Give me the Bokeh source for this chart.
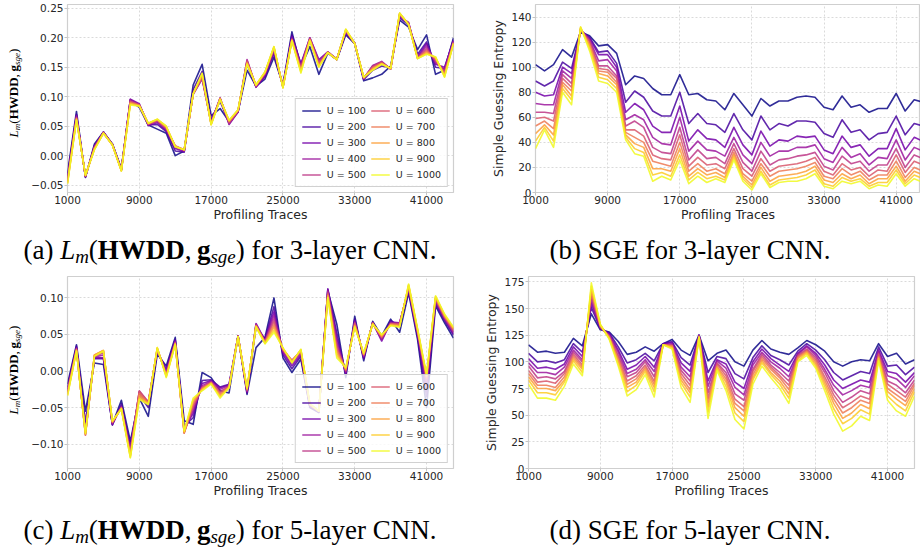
from bokeh.embed import file_html
from bokeh.layouts import column, row
from bokeh.models import (CustomJSTickFormatter, Div, FixedTicker, Legend,
                          LegendItem, Range1d)
from bokeh.plotting import figure
from bokeh.resources import INLINE

# ---------------------------------------------------------------- data
traces = [1000, 2000, 3000, 4000, 5000, 6000, 7000, 8000, 9000, 10000,
          11000, 12000, 13000, 14000, 15000, 16000, 17000, 18000, 19000, 20000,
          21000, 22000, 23000, 24000, 25000, 26000, 27000, 28000, 29000, 30000,
          31000, 32000, 33000, 34000, 35000, 36000, 37000, 38000, 39000, 40000,
          41000, 42000, 43000, 44000]
u_values = [100, 200, 300, 400, 500, 600, 700, 800, 900, 1000]
x_ticks = [1000, 9000, 17000, 25000, 33000, 41000]

# one row per profiling-trace count, one column per U value (100 ... 1000)
lm_3layer = [
    [-0.030, -0.035, -0.038, -0.040, -0.042, -0.043, -0.044, -0.046, -0.047, -0.048],
    [0.075, 0.070, 0.068, 0.067, 0.065, 0.064, 0.063, 0.062, 0.061, 0.060],
    [-0.037, -0.036, -0.036, -0.035, -0.035, -0.034, -0.034, -0.034, -0.033, -0.033],
    [0.020, 0.017, 0.016, 0.015, 0.014, 0.013, 0.012, 0.011, 0.011, 0.010],
    [0.040, 0.040, 0.040, 0.039, 0.039, 0.039, 0.039, 0.038, 0.038, 0.038],
    [0.020, 0.020, 0.019, 0.019, 0.019, 0.019, 0.018, 0.018, 0.018, 0.018],
    [-0.022, -0.023, -0.024, -0.024, -0.024, -0.025, -0.025, -0.025, -0.026, -0.026],
    [0.093, 0.095, 0.096, 0.095, 0.093, 0.092, 0.090, 0.089, 0.088, 0.086],
    [0.082, 0.085, 0.088, 0.087, 0.086, 0.086, 0.085, 0.085, 0.084, 0.084],
    [0.052, 0.052, 0.051, 0.053, 0.053, 0.054, 0.054, 0.055, 0.055, 0.055],
    [0.045, 0.053, 0.056, 0.058, 0.059, 0.060, 0.061, 0.061, 0.062, 0.062],
    [0.038, 0.041, 0.043, 0.045, 0.046, 0.047, 0.048, 0.049, 0.050, 0.050],
    [0.000, 0.008, 0.012, 0.014, 0.015, 0.017, 0.016, 0.016, 0.015, 0.015],
    [0.008, 0.006, 0.007, 0.008, 0.009, 0.010, 0.010, 0.010, 0.010, 0.010],
    [0.120, 0.112, 0.106, 0.104, 0.104, 0.105, 0.105, 0.105, 0.105, 0.105],
    [0.155, 0.143, 0.132, 0.130, 0.131, 0.133, 0.135, 0.137, 0.139, 0.140],
    [0.068, 0.062, 0.058, 0.056, 0.055, 0.054, 0.054, 0.053, 0.053, 0.052],
    [0.080, 0.092, 0.097, 0.098, 0.098, 0.097, 0.097, 0.096, 0.096, 0.095],
    [0.058, 0.056, 0.053, 0.054, 0.055, 0.057, 0.058, 0.059, 0.060, 0.060],
    [0.075, 0.074, 0.074, 0.075, 0.076, 0.076, 0.077, 0.077, 0.078, 0.078],
    [0.145, 0.155, 0.160, 0.163, 0.162, 0.160, 0.158, 0.157, 0.156, 0.155],
    [0.118, 0.117, 0.116, 0.117, 0.118, 0.119, 0.119, 0.120, 0.120, 0.120],
    [0.130, 0.134, 0.136, 0.138, 0.139, 0.140, 0.141, 0.141, 0.142, 0.142],
    [0.167, 0.173, 0.177, 0.179, 0.181, 0.182, 0.183, 0.184, 0.185, 0.185],
    [0.120, 0.119, 0.118, 0.117, 0.117, 0.116, 0.116, 0.116, 0.115, 0.115],
    [0.210, 0.205, 0.202, 0.199, 0.198, 0.197, 0.196, 0.196, 0.195, 0.195],
    [0.150, 0.155, 0.156, 0.153, 0.150, 0.148, 0.146, 0.144, 0.142, 0.140],
    [0.185, 0.195, 0.200, 0.200, 0.199, 0.198, 0.197, 0.196, 0.196, 0.195],
    [0.138, 0.155, 0.163, 0.161, 0.158, 0.156, 0.154, 0.152, 0.151, 0.150],
    [0.174, 0.175, 0.176, 0.176, 0.176, 0.175, 0.175, 0.175, 0.175, 0.175],
    [0.163, 0.163, 0.163, 0.164, 0.164, 0.164, 0.163, 0.163, 0.163, 0.163],
    [0.205, 0.208, 0.210, 0.211, 0.212, 0.213, 0.213, 0.214, 0.214, 0.215],
    [0.190, 0.190, 0.191, 0.191, 0.191, 0.190, 0.190, 0.190, 0.190, 0.190],
    [0.127, 0.129, 0.130, 0.131, 0.131, 0.132, 0.132, 0.133, 0.133, 0.133],
    [0.132, 0.145, 0.152, 0.153, 0.152, 0.150, 0.149, 0.147, 0.146, 0.145],
    [0.138, 0.152, 0.158, 0.160, 0.159, 0.158, 0.157, 0.156, 0.156, 0.155],
    [0.152, 0.150, 0.148, 0.147, 0.147, 0.147, 0.148, 0.148, 0.148, 0.148],
    [0.230, 0.234, 0.236, 0.238, 0.239, 0.240, 0.241, 0.241, 0.242, 0.242],
    [0.218, 0.222, 0.226, 0.225, 0.224, 0.224, 0.223, 0.223, 0.222, 0.222],
    [0.180, 0.172, 0.168, 0.167, 0.166, 0.166, 0.165, 0.165, 0.165, 0.165],
    [0.205, 0.193, 0.190, 0.186, 0.182, 0.179, 0.177, 0.175, 0.173, 0.172],
    [0.138, 0.150, 0.155, 0.158, 0.160, 0.163, 0.165, 0.166, 0.167, 0.168],
    [0.145, 0.148, 0.150, 0.146, 0.143, 0.140, 0.138, 0.136, 0.134, 0.133],
    [0.200, 0.197, 0.195, 0.194, 0.193, 0.192, 0.191, 0.191, 0.190, 0.190],
]

sge_3layer = [
    [102, 89, 80, 71, 64, 59, 53, 47, 41, 35],
    [97, 85, 77, 70, 64, 60, 57, 54, 52, 50],
    [102, 89, 78, 70, 63, 57, 51, 46, 41, 36],
    [114, 104, 100, 97, 94, 91, 88, 86, 83, 80],
    [108, 99, 95, 91, 87, 84, 81, 77, 74, 70],
    [128, 129, 129, 130, 130, 130, 131, 131, 132, 132],
    [125, 124, 123, 122, 121, 120, 118, 117, 115, 113],
    [117, 112, 110, 105, 101, 99, 97, 95, 92, 89],
    [118, 113, 110, 106, 101, 98, 96, 93, 90, 87],
    [111, 103, 100, 97, 93, 91, 88, 86, 83, 80],
    [86, 72, 64, 58, 53, 50, 48, 46, 44, 42],
    [93, 81, 71, 62, 57, 50, 44, 39, 35, 31],
    [91, 76, 66, 58, 52, 45, 40, 36, 32, 29],
    [83, 65, 53, 44, 36, 30, 25, 19, 14, 9],
    [78, 61, 48, 39, 32, 27, 23, 19, 16, 13],
    [78, 61, 48, 38, 31, 26, 21, 17, 13, 10],
    [94, 80, 69, 60, 52, 46, 40, 35, 30, 26],
    [78, 55, 41, 33, 26, 21, 17, 13, 10, 7],
    [79, 63, 50, 41, 34, 28, 23, 19, 16, 13],
    [74, 55, 43, 34, 27, 22, 17, 14, 11, 8],
    [73, 54, 42, 33, 28, 23, 19, 16, 13, 11],
    [66, 48, 36, 29, 23, 19, 15, 12, 10, 8],
    [79, 63, 52, 44, 39, 35, 32, 30, 28, 26],
    [70, 50, 38, 30, 24, 19, 15, 13, 11, 9],
    [61, 42, 30, 23, 17, 13, 9, 6, 4, 2],
    [75, 61, 49, 40, 33, 27, 23, 20, 17, 15],
    [69, 50, 37, 29, 22, 17, 13, 9, 6, 4],
    [73, 55, 42, 33, 26, 21, 17, 13, 10, 8],
    [73, 53, 41, 33, 27, 22, 18, 14, 11, 9],
    [76, 57, 45, 36, 29, 23, 19, 15, 12, 9],
    [77, 57, 44, 36, 30, 25, 21, 17, 14, 11],
    [76, 56, 45, 38, 32, 28, 24, 21, 18, 15],
    [68, 47, 34, 27, 21, 17, 13, 10, 7, 5],
    [66, 44, 31, 24, 18, 14, 11, 8, 5, 3],
    [77, 58, 45, 36, 29, 23, 19, 15, 12, 9],
    [68, 48, 36, 28, 23, 18, 14, 11, 9, 7],
    [70, 50, 38, 31, 25, 20, 17, 14, 11, 9],
    [64, 42, 29, 22, 17, 13, 10, 7, 5, 3],
    [67, 47, 35, 28, 22, 18, 14, 11, 8, 6],
    [67, 48, 35, 27, 22, 17, 14, 11, 8, 5],
    [79, 61, 51, 42, 35, 30, 25, 21, 18, 15],
    [65, 46, 34, 26, 20, 16, 12, 9, 7, 5],
    [74, 55, 44, 36, 30, 25, 20, 17, 14, 11],
    [72, 53, 41, 33, 27, 22, 17, 14, 11, 8],
]

lm_5layer = [
    [-0.018, -0.022, -0.025, -0.027, -0.028, -0.029, -0.030, -0.032, -0.033, -0.034],
    [0.036, 0.034, 0.032, 0.031, 0.030, 0.030, 0.029, 0.028, 0.028, 0.027],
    [-0.055, -0.070, -0.078, -0.083, -0.086, -0.088, -0.087, -0.086, -0.086, -0.085],
    [0.011, 0.017, 0.018, 0.019, 0.020, 0.021, 0.022, 0.022, 0.021, 0.020],
    [0.009, 0.017, 0.018, 0.022, 0.025, 0.027, 0.028, 0.028, 0.028, 0.027],
    [-0.073, -0.074, -0.073, -0.072, -0.071, -0.070, -0.070, -0.069, -0.069, -0.068],
    [-0.040, -0.045, -0.048, -0.049, -0.050, -0.050, -0.051, -0.051, -0.052, -0.052],
    [-0.096, -0.102, -0.106, -0.109, -0.111, -0.113, -0.115, -0.116, -0.118, -0.119],
    [-0.037, -0.033, -0.030, -0.028, -0.027, -0.028, -0.031, -0.034, -0.037, -0.039],
    [-0.062, -0.050, -0.045, -0.043, -0.042, -0.043, -0.044, -0.045, -0.045, -0.046],
    [0.023, 0.026, 0.028, 0.029, 0.030, 0.030, 0.031, 0.031, 0.032, 0.032],
    [0.007, 0.003, 0.000, -0.002, -0.004, -0.005, -0.006, -0.007, -0.008, -0.009],
    [0.046, 0.043, 0.042, 0.040, 0.039, 0.038, 0.038, 0.037, 0.037, 0.036],
    [-0.068, -0.075, -0.079, -0.082, -0.084, -0.085, -0.085, -0.084, -0.083, -0.082],
    [-0.073, -0.064, -0.058, -0.054, -0.050, -0.047, -0.044, -0.041, -0.039, -0.037],
    [-0.002, -0.013, -0.017, -0.020, -0.022, -0.023, -0.024, -0.025, -0.026, -0.027],
    [-0.009, -0.012, -0.013, -0.014, -0.015, -0.016, -0.016, -0.017, -0.017, -0.018],
    [-0.027, -0.022, -0.023, -0.025, -0.028, -0.030, -0.032, -0.034, -0.035, -0.037],
    [-0.030, -0.018, -0.019, -0.020, -0.021, -0.021, -0.022, -0.022, -0.023, -0.023],
    [0.048, 0.048, 0.048, 0.048, 0.048, 0.047, 0.047, 0.047, 0.047, 0.047],
    [-0.032, -0.030, -0.029, -0.028, -0.027, -0.026, -0.025, -0.024, -0.024, -0.023],
    [0.032, 0.060, 0.065, 0.064, 0.063, 0.062, 0.062, 0.061, 0.061, 0.060],
    [0.046, 0.044, 0.042, 0.041, 0.040, 0.040, 0.039, 0.038, 0.038, 0.037],
    [0.100, 0.088, 0.081, 0.076, 0.071, 0.067, 0.063, 0.060, 0.056, 0.053],
    [0.018, 0.022, 0.025, 0.027, 0.028, 0.029, 0.030, 0.031, 0.031, 0.032],
    [-0.002, 0.003, 0.007, 0.010, 0.013, 0.015, 0.014, 0.013, 0.012, 0.011],
    [0.016, 0.020, 0.022, 0.024, 0.025, 0.027, 0.028, 0.029, 0.029, 0.030],
    [-0.050, -0.049, -0.048, -0.047, -0.047, -0.046, -0.046, -0.045, -0.045, -0.045],
    [-0.057, -0.056, -0.056, -0.055, -0.055, -0.055, -0.055, -0.055, -0.055, -0.055],
    [0.110, 0.112, 0.112, 0.110, 0.108, 0.106, 0.104, 0.103, 0.101, 0.100],
    [0.064, 0.052, 0.045, 0.039, 0.035, 0.031, 0.028, 0.024, 0.021, 0.018],
    [-0.009, -0.005, -0.003, -0.002, 0.000, 0.001, 0.002, 0.003, 0.004, 0.005],
    [0.075, 0.071, 0.069, 0.067, 0.066, 0.065, 0.063, 0.062, 0.061, 0.060],
    [0.014, 0.017, 0.018, 0.020, 0.021, 0.022, 0.023, 0.023, 0.024, 0.025],
    [0.068, 0.067, 0.066, 0.066, 0.066, 0.065, 0.065, 0.065, 0.064, 0.064],
    [0.048, 0.044, 0.041, 0.043, 0.045, 0.046, 0.047, 0.048, 0.049, 0.050],
    [0.071, 0.069, 0.067, 0.066, 0.065, 0.065, 0.064, 0.063, 0.063, 0.062],
    [0.053, 0.062, 0.066, 0.066, 0.065, 0.064, 0.063, 0.062, 0.061, 0.060],
    [0.107, 0.110, 0.112, 0.113, 0.114, 0.115, 0.116, 0.117, 0.118, 0.119],
    [0.043, 0.047, 0.050, 0.052, 0.053, 0.054, 0.055, 0.056, 0.057, 0.058],
    [-0.050, -0.035, -0.025, -0.018, -0.013, -0.010, -0.008, -0.007, -0.006, -0.005],
    [0.089, 0.092, 0.095, 0.097, 0.098, 0.099, 0.100, 0.101, 0.102, 0.103],
    [0.066, 0.069, 0.071, 0.072, 0.073, 0.074, 0.075, 0.076, 0.077, 0.078],
    [0.045, 0.049, 0.051, 0.053, 0.054, 0.056, 0.057, 0.058, 0.059, 0.060],
]

sge_5layer = [
    [116, 108, 103, 99, 96, 92, 89, 86, 83, 79],
    [109, 100, 94, 90, 85, 81, 78, 75, 71, 66],
    [110, 101, 95, 90, 86, 82, 78, 75, 71, 66],
    [108, 99, 93, 88, 84, 80, 76, 73, 69, 64],
    [109, 102, 98, 95, 91, 89, 86, 83, 81, 77],
    [122, 117, 114, 111, 109, 107, 105, 103, 101, 98],
    [115, 109, 105, 102, 100, 97, 95, 93, 90, 87],
    [145, 151, 155, 158, 161, 164, 166, 168, 171, 174],
    [130, 131, 132, 132, 133, 133, 134, 134, 135, 135],
    [128, 127, 126, 125, 124, 124, 123, 122, 122, 121],
    [119, 114, 111, 109, 106, 104, 102, 101, 98, 96],
    [107, 99, 93, 89, 86, 82, 79, 76, 72, 68],
    [109, 102, 97, 93, 90, 87, 84, 81, 78, 74],
    [114, 108, 105, 102, 100, 97, 95, 93, 91, 88],
    [110, 101, 95, 91, 86, 82, 79, 76, 72, 67],
    [117, 117, 117, 116, 116, 116, 116, 116, 116, 116],
    [121, 119, 118, 117, 116, 115, 115, 114, 113, 112],
    [111, 104, 99, 95, 92, 89, 86, 83, 80, 76],
    [106, 97, 91, 86, 82, 78, 74, 71, 67, 62],
    [125, 125, 125, 124, 124, 124, 124, 123, 123, 123],
    [101, 90, 82, 77, 71, 66, 62, 58, 53, 47],
    [108, 105, 102, 101, 99, 98, 96, 95, 94, 92],
    [111, 103, 98, 94, 90, 87, 84, 81, 77, 73],
    [100, 89, 81, 76, 70, 65, 61, 57, 52, 46],
    [96, 84, 75, 69, 64, 58, 54, 49, 44, 37],
    [111, 104, 100, 97, 93, 91, 88, 85, 83, 79],
    [120, 115, 112, 109, 107, 105, 103, 101, 99, 96],
    [112, 106, 103, 100, 97, 95, 93, 90, 88, 85],
    [109, 102, 97, 94, 90, 87, 85, 82, 79, 75],
    [107, 97, 91, 86, 82, 78, 74, 70, 66, 61],
    [113, 110, 108, 107, 106, 105, 104, 103, 101, 100],
    [120, 117, 115, 114, 112, 111, 110, 109, 108, 106],
    [116, 111, 108, 106, 104, 102, 100, 98, 96, 94],
    [110, 102, 97, 93, 90, 86, 83, 80, 77, 73],
    [100, 90, 83, 78, 73, 69, 65, 61, 56, 51],
    [96, 83, 75, 69, 62, 57, 52, 47, 42, 35],
    [100, 87, 79, 73, 67, 62, 57, 52, 47, 40],
    [102, 91, 83, 78, 73, 68, 64, 60, 55, 49],
    [101, 89, 81, 76, 70, 65, 61, 56, 51, 45],
    [117, 114, 111, 110, 108, 107, 105, 104, 103, 101],
    [105, 96, 91, 87, 82, 79, 75, 72, 68, 64],
    [108, 97, 89, 84, 78, 73, 69, 65, 60, 54],
    [98, 88, 81, 76, 71, 67, 63, 59, 54, 49],
    [102, 95, 90, 87, 83, 80, 78, 75, 72, 68],
]

# ---------------------------------------------------------------- style
plasma10 = ["#0d0887", "#47039f", "#7301a8", "#9c179e", "#bd3786",
            "#d8576b", "#ed7953", "#fb9f3a", "#fdca26", "#f0f921"]
SANS = "DejaVu Sans"
SERIF = "'Liberation Serif', serif"
INK = "#262626"
FRAME = "#cfcfcf"
GRID = "#d6d6d6"

SUB = '<span style="font-size:0.7em;vertical-align:-0.22em">{}</span>'
LM_HTML = ("<i>L</i>" + SUB.format("<i>m</i>") + "(<b>HWDD</b>,&#8201;<b>g</b>"
           + SUB.format("<i>sge</i>") + ")")


def caption_div(w, h, body, size=27, baseline=30):
    # line box whose baseline falls `baseline` px below the top of the block
    line = 2 * baseline - 1.107 * size + 2 * 0.216 * size
    html = (f'<div style="width:{w}px;height:{h}px;overflow:visible;'
            f'text-align:center;white-space:nowrap;font-family:{SERIF};'
            f'font-size:{size}px;line-height:{line:.1f}px;color:#000">{body}</div>')
    return Div(text=html, width=w, height=h, margin=(0, 0, 0, 0))


def ylabel_div(w, h, cx, cy, size=13):
    html = (f'<div style="position:relative;width:{w}px;height:{h}px;">'
            f'<div style="position:absolute;left:{cx}px;top:{cy}px;'
            f'transform:translate(-50%,-50%) rotate(-90deg);white-space:nowrap;'
            f'font-family:{SERIF};font-size:{size}px;line-height:1;color:#000">'
            f'{LM_HTML}</div></div>')
    return Div(text=html, width=w, height=h, margin=(0, 0, 0, 0))


def tick_formatter(digits):
    return CustomJSTickFormatter(
        args=dict(d=digits),
        code="const s = Math.abs(tick).toFixed(d); "
             "return (tick < -1e-9) ? '\u2212' + s : s;")


def panel(rows, w, h, left, right, top, frame_h, x_end, y_lo, y_hi, y_ticks,
          digits, y_label=None, legend=False):
    p = figure(width=w, height=h, output_backend="svg", toolbar_location=None,
               title=None,
               x_range=Range1d(1000, x_end), y_range=Range1d(y_lo, y_hi),
               min_border_left=left, min_border_right=right, min_border_top=top,
               min_border_bottom=h - top - frame_h)
    p.background_fill_color = "white"
    p.border_fill_color = "white"
    p.outline_line_color = FRAME
    p.outline_line_width = 1.2

    p.xaxis.ticker = FixedTicker(ticks=x_ticks)
    p.yaxis.ticker = FixedTicker(ticks=y_ticks)
    p.yaxis.formatter = tick_formatter(digits)
    for ax in (p.xaxis[0], p.yaxis[0]):
        ax.axis_line_color = None
        ax.major_tick_line_color = "#c4c4c4"
        ax.major_tick_out = 3
        ax.major_tick_in = 0
        ax.minor_tick_line_color = None
        ax.major_label_text_font = SANS
        ax.major_label_text_font_size = "10.5px"
        ax.major_label_text_color = INK
        ax.major_label_standoff = 1
        ax.axis_label_text_font = SANS
        ax.axis_label_text_font_size = "12.5px"
        ax.axis_label_text_font_style = "normal"
        ax.axis_label_text_color = INK
        ax.axis_label_standoff = 0
    p.xaxis.major_label_standoff = 0
    p.yaxis.axis_label_standoff = 2
    p.xaxis.axis_label = "Profiling Traces"
    if y_label:
        p.yaxis.axis_label = y_label

    p.grid.grid_line_color = GRID
    p.grid.grid_line_dash = "2 2"
    p.grid.grid_line_width = 0.9

    items = []
    series = list(zip(*rows))
    for u, color, ys in zip(u_values, plasma10, series):
        r = p.line(traces, list(ys), line_color=color, line_width=1.6,
                   line_alpha=0.85, line_join="round")
        items.append(LegendItem(label=f"U = {u}", renderers=[r]))

    if legend:
        lg = Legend(items=items, location="bottom_right", ncols=2,
                    label_text_font=SANS, label_text_font_size="9.5px",
                    label_text_color=INK, glyph_width=19, glyph_height=11,
                    label_height=11, label_standoff=6, spacing=5, padding=6,
                    margin=5, border_line_color="#cccccc", border_line_alpha=0.9,
                    background_fill_color="white", background_fill_alpha=0.8)
        p.add_layout(lg)
    return p


# ---------------------------------------------------------------- panels
fig_a = panel(lm_3layer, 436, 230, 43, 7, 4, 188, 44000, -0.0625, 0.2565,
              [-0.05, 0.0, 0.05, 0.10, 0.15, 0.20, 0.25], 2, legend=True)
fig_b = panel(sge_3layer, 460, 230, 75, 0, 4, 188, 43700, 0, 150,
              [0, 20, 40, 60, 80, 100, 120, 140], 0,
              y_label="Simple Guessing Entropy")
fig_c = panel(lm_5layer, 436, 240, 43, 7, 6, 192, 44000, -0.1334, 0.1293,
              [-0.10, -0.05, 0.0, 0.05, 0.10], 2, legend=True)
fig_d = panel(sge_5layer, 460, 240, 68, 6, 6, 192, 44000, 0, 180,
              [0, 25, 50, 75, 100, 125, 150, 175], 0,
              y_label="Simple Guessing Entropy")

ylab_a = ylabel_div(24, 230, 15, 93)
ylab_c = ylabel_div(24, 240, 15, 100)

cap_a = caption_div(460, 40, f"(a) {LM_HTML} for 3-layer CNN.")
cap_b = caption_div(460, 40, "(b) SGE for 3-layer CNN.")
cap_c = caption_div(460, 38, f"(c) {LM_HTML} for 5-layer CNN.")
cap_d = caption_div(460, 38, "(d) SGE for 5-layer CNN.")

layout = column(
    row(ylab_a, fig_a, fig_b, spacing=0),
    row(cap_a, cap_b, spacing=0),
    row(ylab_c, fig_c, fig_d, spacing=0),
    row(cap_c, cap_d, spacing=0),
    spacing=0,
)

open("out.html", "w").write(file_html(layout, INLINE))
